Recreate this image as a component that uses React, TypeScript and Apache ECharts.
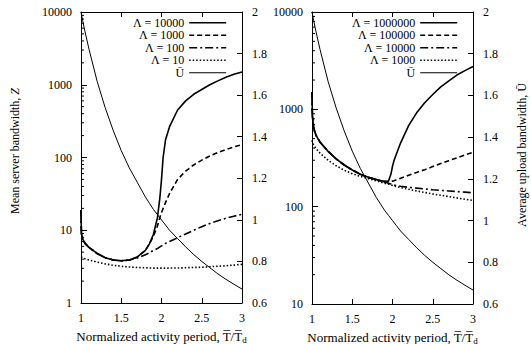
import React, { useEffect, useRef } from "react";
import * as echarts from "echarts";

// shared x sample positions (normalized activity period)
const xs = [1, 1.005, 1.02, 1.05, 1.1, 1.2, 1.3, 1.4, 1.5, 1.6, 1.7, 1.8, 1.85, 1.9, 1.95, 1.98, 2.0, 2.02, 2.05, 2.1, 2.2, 2.3, 2.4, 2.5, 2.6, 2.7, 2.8, 2.9, 3.0];

// Left panel: mean server bandwidth Z
const leftNames = ["Λ = 10000", "Λ = 1000", "Λ = 100", "Λ = 10"];
const leftL10000 = [19, 9, 7.6, 6.6, 5.8, 4.8, 4.2, 3.9, 3.8, 3.9, 4.3, 5.3, 6.5, 8.8, 15, 28, 50, 100, 175, 265, 450, 600, 740, 860, 1000, 1130, 1270, 1390, 1500];
const leftL1000 = [19, 9, 7.6, 6.6, 5.8, 4.8, 4.2, 3.9, 3.8, 3.9, 4.3, 5.3, 6.5, 8.3, 11.5, 15, 17.5, 20, 24, 32, 50, 65, 79, 92, 105, 117, 129, 140, 150];
const leftL100 = [19, 9, 7.6, 6.6, 5.8, 4.8, 4.2, 3.9, 3.8, 3.9, 4.15, 4.6, 4.9, 5.3, 5.6, 5.9, 6.1, 6.3, 6.6, 7.0, 7.9, 8.9, 10, 11.2, 12.4, 13.5, 14.6, 15.6, 16.6];
const leftL10 = [4.3, 4.28, 4.2, 4.05, 3.9, 3.65, 3.45, 3.3, 3.2, 3.13, 3.08, 3.05, 3.03, 3.02, 3.02, 3.02, 3.02, 3.02, 3.02, 3.02, 3.03, 3.05, 3.08, 3.1, 3.15, 3.2, 3.25, 3.32, 3.4];

// Right panel: mean server bandwidth Z
const rightNames = ["Λ = 1000000", "Λ = 100000", "Λ = 10000", "Λ = 1000"];
const rightL1000000 = [1500, 850, 650, 540, 460, 370, 310, 268, 238, 215, 200, 190, 185, 182, 183, 215, 260, 300, 350, 450, 680, 920, 1170, 1420, 1700, 1960, 2250, 2500, 2750];
const rightL100000 = [1500, 850, 650, 540, 460, 370, 310, 268, 238, 215, 200, 190, 185, 182, 180, 181, 183, 185, 189, 196, 210, 225, 240, 258, 277, 297, 318, 340, 362];
const rightL10000 = [1500, 850, 650, 540, 460, 370, 310, 268, 238, 215, 200, 190, 184, 179, 174, 171, 169, 167, 165, 162, 158, 155, 152, 149, 147, 145, 143, 141, 139];
const rightL1000 = [480, 460, 430, 395, 355, 300, 263, 237, 218, 205, 194, 184, 179, 174, 170, 167, 165, 163, 161, 157, 151, 145, 140, 135, 131, 127, 123, 119, 116];

// Average upload bandwidth Ū (right-hand axis, both panels)
const uName = "Ū";
const uBar = [2.0, 1.99, 1.96, 1.905, 1.82, 1.667, 1.54, 1.43, 1.333, 1.25, 1.18, 1.11, 1.08, 1.05, 1.025, 1.01, 1.0, 0.99, 0.975, 0.95, 0.91, 0.87, 0.833, 0.8, 0.77, 0.74, 0.714, 0.69, 0.667];

// minor log ticks
const minorTicksLeft = [2, 3, 4, 5, 6, 7, 8, 9, 20, 30, 40, 50, 60, 70, 80, 90, 200, 300, 400, 500, 600, 700, 800, 900, 2000, 3000, 4000, 5000, 6000, 7000, 8000, 9000];
const minorTicksRight = [20, 30, 40, 50, 60, 70, 80, 90, 200, 300, 400, 500, 600, 700, 800, 900, 2000, 3000, 4000, 5000, 6000, 7000, 8000, 9000];

const FONT = "Liberation Serif";
const styles = [
  { type: "solid" as any, width: 1.6 },
  { type: [5, 3] as any, width: 1.6 },
  { type: [8, 3, 2, 3] as any, width: 1.6 },
  { type: [1.5, 2] as any, width: 1.6 },
];
const uStyle = { type: "solid" as any, width: 1 };

const pairs = (x: number[], y: number[]) => x.map((v, i) => [v, y[i]]);

export default function App() {
  const ref = useRef<HTMLDivElement>(null);
  useEffect(() => {
    if (!ref.current) return;
    const chart = echarts.init(ref.current, undefined, { renderer: "svg" });
    const txt = { fontFamily: FONT, fontSize: 12, color: "#000" };
    const axisLine = { show: true, lineStyle: { color: "#000", width: 1 } };
    const grids = [
      { left: 81, top: 12, width: 161, height: 291, containLabel: false, outerBoundsMode: "none" },
      { left: 312, top: 12, width: 161, height: 292, containLabel: false, outerBoundsMode: "none" },
    ];
    const xName = "{t|Normalized activity period, T\u0305/T\u0305}{s|d}";
    const xRich = {
      t: { fontFamily: FONT, fontSize: 13, color: "#000", lineHeight: 16 },
      s: { fontFamily: FONT, fontSize: 9, color: "#000", lineHeight: 8, verticalAlign: "bottom" },
    };
    const mkX = (gi: number, top: boolean) => ({
      type: "value",
      gridIndex: gi,
      position: top ? "top" : "bottom",
      min: 1,
      max: 3,
      interval: 0.5,
      axisLine,
      axisTick: { show: true, inside: true, length: 5, lineStyle: { color: "#000" } },
      axisLabel: top ? { show: false } : { ...txt, margin: 9, formatter: (v: number) => String(v) },
      splitLine: { show: false },
      name: top ? "" : xName,
      nameLocation: "middle",
      nameGap: 25,
      nameMoveOverlap: false,
      nameTextStyle: { ...txt, lineHeight: 16, rich: xRich },
    });
    const mkLog = (gi: number, min: number) => ({
      type: "log",
      logBase: 10,
      gridIndex: gi,
      position: "left",
      min,
      max: 10000,
      axisLine,
      axisTick: { show: true, inside: true, length: 6, lineStyle: { color: "#000" } },
      axisLabel: { ...txt, margin: 9, formatter: (v: number) => String(Math.round(v)) },
      splitLine: { show: false },
    });
    const mkU = (gi: number) => ({
      type: "value",
      gridIndex: gi,
      position: "right",
      min: 0.6,
      max: 2,
      interval: 0.2,
      axisLine,
      axisTick: { show: true, inside: true, length: 5, lineStyle: { color: "#000" } },
      axisLabel: { ...txt, margin: 10, formatter: (v: number) => String(Math.round(v * 10) / 10) },
      splitLine: { show: false },
    });
    const lineSeries = (name: string, data: number[], xi: number, yi: number, st: any) => ({
      name,
      type: "line",
      xAxisIndex: xi,
      yAxisIndex: yi,
      data: pairs(xs, data),
      symbol: "none",
      showSymbol: false,
      silent: true,
      itemStyle: { color: "#000" },
      lineStyle: { color: "#000", ...st },
    });
    const minorSeries = (vals: number[], xi: number, yi: number) => ({
      type: "custom",
      xAxisIndex: xi,
      yAxisIndex: yi,
      silent: true,
      data: vals.map((v) => [1, v]),
      renderItem: (params: any, api: any) => {
        const p = api.coord([api.value(0), api.value(1)]);
        return {
          type: "line",
          shape: { x1: p[0], y1: p[1], x2: p[0] + 3, y2: p[1] },
          style: { stroke: "#000", lineWidth: 1 },
        };
      },
    });
    const legendData = (names: string[]) => [
      ...names.map((n, i) => ({ name: n, lineStyle: { color: "#000", ...styles[i] } })),
      { name: uName, lineStyle: { color: "#000", ...uStyle } },
    ];
    const legendBase = {
      orient: "vertical",
      align: "right",
      top: 16.5,
      padding: 0,
      itemGap: 0,
      itemWidth: 37,
      itemHeight: 12.5,
      selectedMode: false,
      itemStyle: { opacity: 0, color: "#000", borderWidth: 0 },
      textStyle: { ...txt, lineHeight: 12.5 },
    };
    chart.setOption({
      animation: false,
      backgroundColor: "#fff",
      textStyle: { fontFamily: FONT, fontSize: 12, color: "#000" },
      grid: grids,
      xAxis: [mkX(0, false), mkX(0, true), mkX(1, false), mkX(1, true)],
      yAxis: [mkLog(0, 1), mkU(0), mkLog(1, 10), mkU(1)],
      legend: [
        { ...legendBase, right: 304, data: legendData(leftNames) },
        { ...legendBase, right: 73, data: legendData(rightNames) },
      ],
      graphic: [
        {
          type: "text",
          x: 15,
          y: 151,
          rotation: Math.PI / 2,
          style: {
            text: "Mean server bandwidth, {i|Z}",
            font: `12px ${FONT}`,
            fill: "#000",
            align: "center",
            verticalAlign: "middle",
            rich: { i: { fontStyle: "italic", fontFamily: FONT, fontSize: 12, fill: "#000" } },
          },
        },
        {
          type: "text",
          x: 522,
          y: 155,
          rotation: Math.PI / 2,
          style: {
            text: "Average upload bandwidth, Ū",
            font: `12px ${FONT}`,
            fill: "#000",
            align: "center",
            verticalAlign: "middle",
          },
        },
      ],
      series: [
        lineSeries(leftNames[0], leftL10000, 0, 0, styles[0]),
        lineSeries(leftNames[1], leftL1000, 0, 0, styles[1]),
        lineSeries(leftNames[2], leftL100, 0, 0, styles[2]),
        lineSeries(leftNames[3], leftL10, 0, 0, styles[3]),
        lineSeries(uName, uBar, 0, 1, uStyle),
        lineSeries(rightNames[0], rightL1000000, 2, 2, styles[0]),
        lineSeries(rightNames[1], rightL100000, 2, 2, styles[1]),
        lineSeries(rightNames[2], rightL10000, 2, 2, styles[2]),
        lineSeries(rightNames[3], rightL1000, 2, 2, styles[3]),
        lineSeries(uName, uBar, 2, 3, uStyle),
        minorSeries(minorTicksLeft, 0, 0),
        minorSeries(minorTicksRight, 2, 2),
      ],
    });
    return () => chart.dispose();
  }, []);
  return (
    <div
      ref={ref}
      style={{ position: "fixed", left: 0, top: 0, width: 531, height: 344, background: "#fff" }}
    />
  );
}
